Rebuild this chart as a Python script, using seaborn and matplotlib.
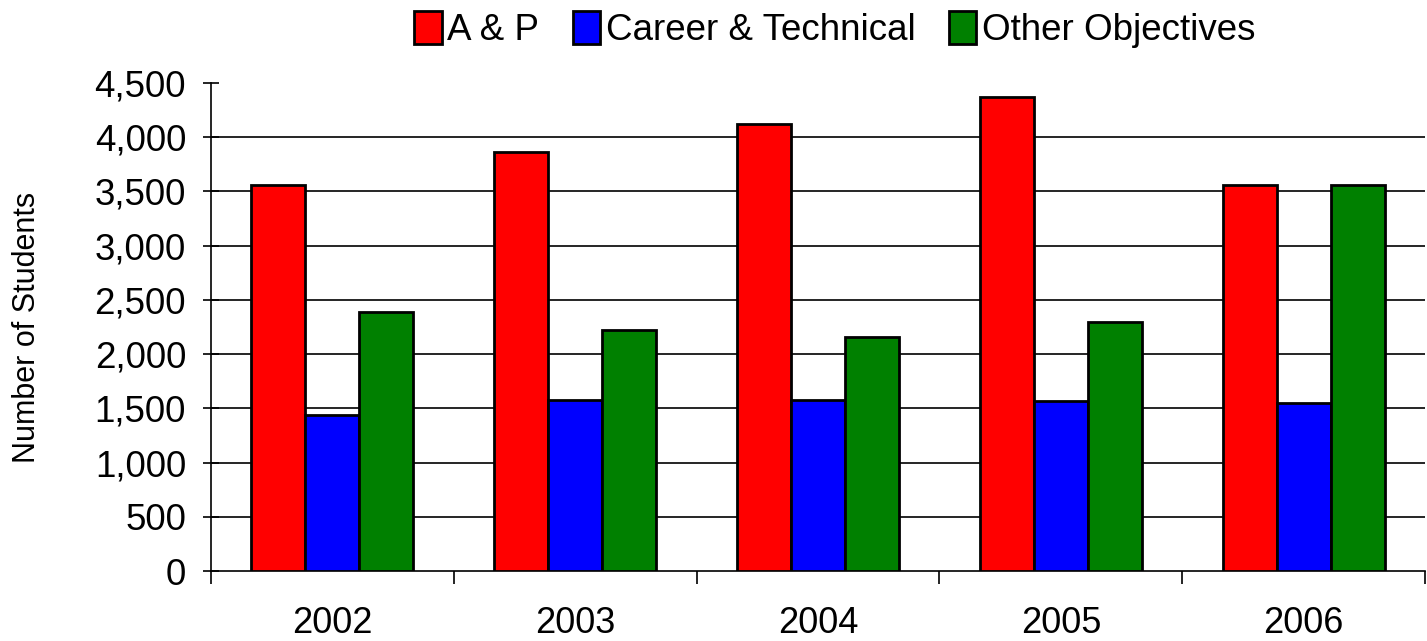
import matplotlib
matplotlib.use('Agg')
import matplotlib.pyplot as plt
import matplotlib.ticker as mticker
import numpy as np
import pandas as pd
import seaborn as sns

# values
years = ['2002', '2003', '2004', '2005', '2006']
series = ['A & P', 'Career & Technical', 'Other Objectives']
ap_students = [3560, 3860, 4125, 4375, 3560]
career_students = [1440, 1580, 1575, 1565, 1545]
other_students = [2390, 2220, 2155, 2295, 3560]
colors = ['#ff0000', '#0000ff', '#008000']
y_ticks = np.arange(0, 4501, 500)

df = pd.DataFrame({
    'year': years * 3,
    'group': [s for s in series for _ in years],
    'students': ap_students + career_students + other_students,
})

sns.set_style('white', {'xtick.bottom': True, 'ytick.left': True,
                        'text.color': 'black', 'xtick.color': 'black',
                        'ytick.color': 'black', 'axes.labelcolor': 'black'})
plt.rcParams['font.family'] = ['Liberation Sans', 'DejaVu Sans']

fig = plt.figure(figsize=(14.27, 6.41), dpi=100)
ax = fig.add_axes([0.1479, 0.1092, 0.8507, 0.7613])

sns.barplot(data=df, x='year', y='students', hue='group', hue_order=series,
            palette=colors, width=0.667, edgecolor='black', linewidth=2,
            saturation=1, ax=ax, legend=True, zorder=3)

ax.set_ylim(y_ticks[0], y_ticks[-1])
ax.set_xlim(-0.5, 4.5)
ax.set_yticks(y_ticks)
ax.yaxis.set_major_formatter(mticker.StrMethodFormatter('{x:,.0f}'))
# gridlines at inner ticks only (none along the top edge)
ax.hlines(y_ticks[1:-1], -0.5, 4.5, colors='black', linewidth=1.2, zorder=1)

# category ticks sit between the groups
ax.set_xticks(np.arange(-0.5, 5, 1), minor=True)
ax.tick_params(axis='x', which='major', length=0, labelsize=26, pad=25)
ax.tick_params(axis='x', which='minor', length=9, width=1.2, direction='out', color='black')
ax.tick_params(axis='y', length=12, width=1.2, direction='inout', color='black',
               labelsize=26.5, pad=12)

for side in ['top', 'right']:
    ax.spines[side].set_visible(False)
for side in ['left', 'bottom']:
    ax.spines[side].set_color('black')
    ax.spines[side].set_linewidth(1.2)

ax.set_xlabel('')
ax.set_ylabel('Number of Students', fontsize=22, labelpad=38)

handles, labels = ax.get_legend_handles_labels()
ax.get_legend().remove()
fig.legend(handles, labels, loc='upper center', bbox_to_anchor=(0.585, 1.035),
           ncol=3, frameon=False, fontsize=26.5, handlelength=0.75, handleheight=1.0,
           handletextpad=0.15, columnspacing=0.9)

fig.savefig('out.png', dpi=100)
